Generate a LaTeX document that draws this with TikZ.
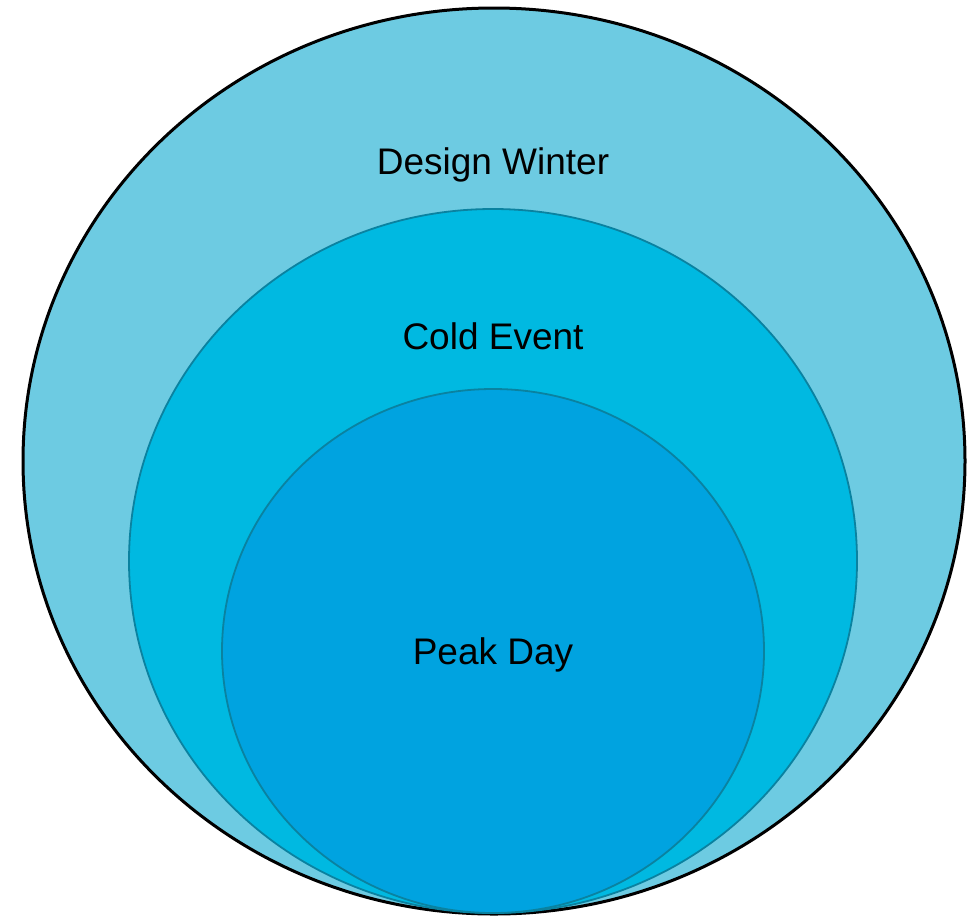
\documentclass[tikz,border=0pt]{standalone}
\usepackage{fontspec}
\setmainfont{Liberation Sans}
\definecolor{wintercol}{HTML}{6DCBE2}
\definecolor{coldcol}{HTML}{00B9E1}
\definecolor{peakcol}{HTML}{00A3E0}
\definecolor{rimcol}{HTML}{0A82A0}
\begin{document}
\begin{tikzpicture}[x=1pt,y=-1pt,
  label text/.style={font=\fontsize{37}{40}\selectfont, text=black, inner sep=0pt},
  inner ring/.style={draw=rimcol, line width=1.8pt}]
\useasboundingbox (0,0) rectangle (979,916);
% outer set
\filldraw[fill=wintercol, draw=black, line width=3pt] (494,461) ellipse [x radius=471, y radius=453];
% middle set
\filldraw[fill=coldcol, inner ring] (493,561) ellipse [x radius=364, y radius=352];
% inner set
\filldraw[fill=peakcol, inner ring] (493,651) ellipse [x radius=271, y radius=262];
\node[label text] (winter) at (493,165) {Design Winter};
\node[label text] (cold) at (493,336) {Cold Event};
\node[label text] (peak) at (493,655) {Peak Day};
\end{tikzpicture}
\end{document}
